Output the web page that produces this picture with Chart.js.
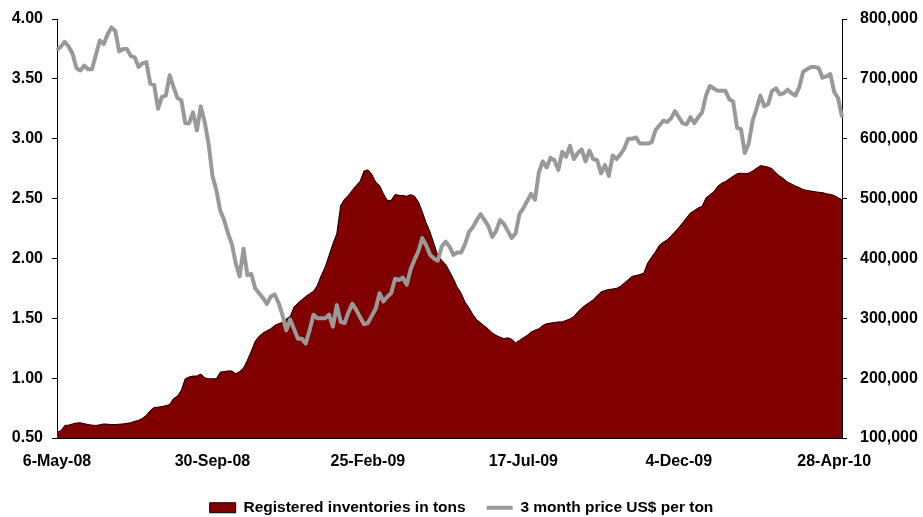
<!DOCTYPE html>
<html>
<head>
<meta charset="utf-8">
<script src="https://cdn.jsdelivr.net/npm/chart.js@4/dist/chart.umd.min.js"></script>
<style>
html, body { margin: 0; padding: 0; background: #fff; }
</style>
</head>
<body>
<canvas id="chart" width="923" height="517"></canvas>
<script>
// date labels shown under the x axis, one every 40 points
const tickLabels = ['6-May-08', '30-Sep-08', '25-Feb-09', '17-Jul-09', '4-Dec-09', '28-Apr-10'];
const pointsPerLabel = 40;

// 3 month price, US$ (left axis)
const price = [
    3.74, 3.77, 3.81, 3.77, 3.71, 3.59, 3.57, 3.61, 3.58, 3.58,
    3.70, 3.82, 3.79, 3.87, 3.93, 3.90, 3.73, 3.75, 3.75, 3.69,
    3.68, 3.60, 3.63, 3.64, 3.46, 3.45, 3.25, 3.35, 3.36, 3.53,
    3.43, 3.34, 3.32, 3.13, 3.13, 3.22, 3.07, 3.27, 3.14, 2.96,
    2.69, 2.57,
    2.40, 2.32, 2.21, 2.12, 1.96, 1.85, 2.08, 1.86, 1.87, 1.75,
    1.71, 1.67, 1.62, 1.68, 1.70, 1.63, 1.53, 1.40, 1.49, 1.41,
    1.33, 1.33, 1.29, 1.40, 1.53, 1.50, 1.50, 1.50, 1.53, 1.43,
    1.61, 1.47, 1.46, 1.55, 1.62, 1.57, 1.51, 1.45, 1.46, 1.52,
    1.58, 1.71,
    1.64, 1.68, 1.71, 1.83, 1.82, 1.84, 1.78, 1.91, 1.99, 2.06,
    2.17, 2.11, 2.03, 2.00, 1.98, 2.10, 2.14, 2.10, 2.03, 2.05,
    2.05, 2.12, 2.22, 2.26, 2.32, 2.37, 2.32, 2.27, 2.18, 2.23,
    2.32, 2.29, 2.23, 2.17, 2.21, 2.37, 2.42, 2.48, 2.54, 2.49,
    2.72,
    2.81, 2.76, 2.84, 2.82, 2.74, 2.89, 2.85, 2.94, 2.83, 2.88,
    2.91, 2.81, 2.90, 2.83, 2.82, 2.71, 2.78, 2.69, 2.86, 2.83,
    2.87, 2.92, 3.00, 3.00, 3.01, 2.96, 2.96, 2.96, 2.97, 3.07,
    3.11, 3.15, 3.14, 3.17, 3.23, 3.18, 3.13, 3.12, 3.18, 3.13,
    3.18,
    3.22, 3.36, 3.44, 3.42, 3.40, 3.40, 3.40, 3.33, 3.31, 3.09,
    3.08, 2.88, 2.96, 3.15, 3.25, 3.36, 3.27, 3.29, 3.40, 3.42,
    3.37, 3.38, 3.41, 3.38, 3.36, 3.43, 3.56, 3.58, 3.60, 3.60,
    3.59, 3.51, 3.52, 3.54, 3.39, 3.34, 3.18
];

// registered inventories, tons (right axis)
const inventories = [
    110000, 112000, 121000, 121500, 123500, 125000, 125500, 124000, 122500, 121500,
    121000, 122000, 123500, 123000, 122500, 122500, 123000, 123500, 124500, 125500,
    128000, 129500, 133000, 138000, 146000, 151000, 151500, 152500, 154000, 156000,
    166000, 170000, 180000, 199000, 202000, 203500, 203500, 207000, 200500, 199000,
    199000, 199000,
    210000, 211000, 212000, 212000, 207500, 211000, 217000, 230000, 245000, 261500,
    270000, 275500, 279000, 282500, 288000, 291000, 293000, 299000, 303000, 319000,
    325500, 331000, 336500, 341000, 345000, 355000, 371500, 385500, 405000, 424500,
    441500, 488500, 499000, 505500, 514000, 522000, 529000, 546000, 548000, 540500,
    527500, 522000,
    508000, 497000, 497000, 507000, 505500, 505000, 504000, 506500, 504000, 494500,
    478000, 459500, 444000, 424500, 405000, 397000, 390000, 378500, 366000, 352000,
    342000, 327000, 317500, 306500, 297500, 292500, 287000, 282000, 275500, 271500,
    268500, 266000, 267500, 265000, 259000, 263000, 267500, 271500, 277000, 280000,
    282500,
    288000, 291000, 292000, 293000, 294000, 294000, 296500, 299000, 303000, 310500,
    317000, 322000, 326500, 331000, 338000, 344000, 346500, 348000, 349000, 350000,
    353500, 359000, 364500, 370000, 371500, 373000, 375500, 392500, 402000, 411000,
    422000, 427000, 431000, 437500, 444500, 451500, 459500, 468000, 476000, 480000,
    484500,
    487000, 501000, 506500, 511000, 520500, 525500, 528500, 533000, 537500, 541500,
    542500, 541500, 542500, 546000, 550500, 555000, 554000, 552500, 550000, 543000,
    537500, 533000, 527500, 524500, 521000, 518500, 515000, 513500, 512500, 511500,
    510500, 510000, 508000, 507000, 505000, 501500, 498000
];

const categories = price.map((v, i) => (i % pointsPerLabel === 0 && tickLabels[i / pointsPerLabel]) ? tickLabels[i / pointsPerLabel] : '');

const fontFamily = '"Liberation Sans", Arial, Helvetica, sans-serif';
const axisFont = { family: fontFamily, size: 16, weight: 'bold' };

Chart.defaults.font.family = fontFamily;
Chart.defaults.color = '#000';

// fixed axis box sizes; drop the label overhang padding so the plot top comes from layout.padding
function fixWidth(w) {
    return (s) => {
        s.width = w;
        s.paddingTop = 0;
        s.paddingBottom = 0;
    };
}

new Chart(document.getElementById('chart'), {
    type: 'line',
    data: {
        labels: categories,
        datasets: [
            {
                label: 'Registered inventories in tons',
                data: inventories,
                yAxisID: 'yRight',
                fill: 'start',
                backgroundColor: '#800000',
                borderColor: '#000000',
                borderWidth: 1,
                pointRadius: 0,
                pointStyle: 'rect',
                tension: 0,
                order: 1
            },
            {
                label: '3 month price US$ per ton',
                data: price,
                yAxisID: 'yLeft',
                fill: false,
                borderColor: '#999999',
                borderWidth: 4,
                borderJoinStyle: 'round',
                pointRadius: 0,
                pointStyle: 'line',
                tension: 0,
                order: 0
            }
        ]
    },
    options: {
        responsive: false,
        animation: false,
        events: [],
        layout: { padding: { top: 19, right: 0, bottom: 0, left: 0 } },
        plugins: {
            tooltip: { enabled: false },
            legend: {
                position: 'bottom',
                maxHeight: 38,
                labels: {
                    usePointStyle: true,
                    pointStyleWidth: 26,
                    boxHeight: 10,
                    padding: 21,
                    color: '#000',
                    font: { family: fontFamily, size: 15.5, weight: 'bold' },
                    sort: (a, b) => a.datasetIndex - b.datasetIndex
                }
            }
        },
        scales: {
            x: {
                type: 'category',
                grid: { display: false, drawTicks: false },
                border: { display: true, color: '#000', width: 1 },
                ticks: { autoSkip: false, maxRotation: 0, minRotation: 0, padding: 14, color: '#000', font: axisFont },
                afterFit: (s) => { s.height = 41; }
            },
            yLeft: {
                position: 'left',
                min: 0.5,
                max: 4,
                grid: { drawOnChartArea: false, tickLength: 5, color: '#000', tickColor: '#000' },
                border: { display: true, color: '#000', width: 1 },
                ticks: { stepSize: 0.5, padding: 9, color: '#000', font: axisFont, callback: (v) => v.toFixed(2) },
                afterFit: fixWidth(57)
            },
            yRight: {
                position: 'right',
                min: 100000,
                max: 800000,
                grid: { drawOnChartArea: false, tickLength: 5, color: '#000', tickColor: '#000' },
                border: { display: true, color: '#000', width: 1 },
                ticks: { stepSize: 100000, padding: 13, color: '#000', font: axisFont, callback: (v) => v.toLocaleString('en-US') },
                afterFit: fixWidth(81)
            }
        }
    }
});
</script>
</body>
</html>
